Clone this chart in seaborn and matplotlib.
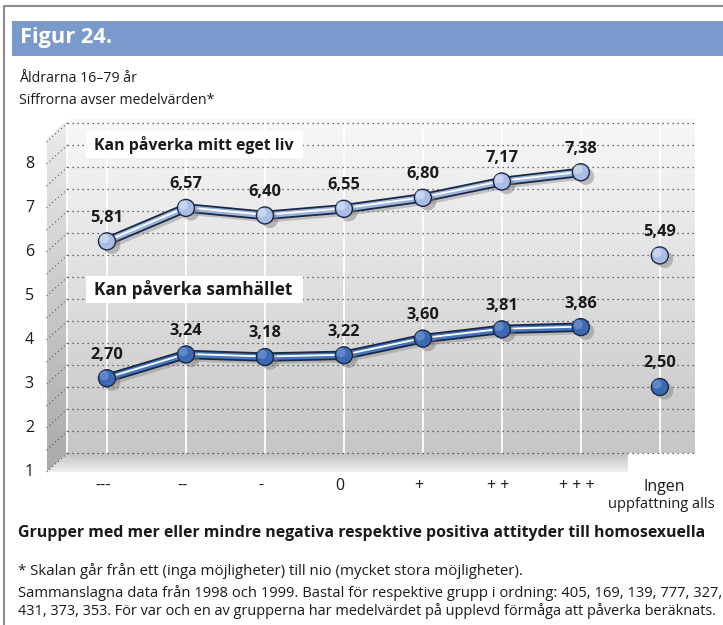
import numpy as np
import pandas as pd
import matplotlib
matplotlib.use("Agg")
import matplotlib.pyplot as plt
import matplotlib.transforms as mtransforms
import seaborn as sns
from matplotlib import patheffects as pe
from matplotlib.patches import Polygon, Rectangle
from matplotlib.lines import Line2D

# ---------------- data ----------------
categories = ["---", "--", "-", "0", "+", "+ +", "+ + +", "Ingen"]
eget_liv = [5.81, 6.57, 6.40, 6.55, 6.80, 7.17, 7.38, 5.49]
samhallet = [2.70, 3.24, 3.18, 3.22, 3.60, 3.81, 3.86, 2.50]
y_tick_values = [1, 2, 3, 4, 5, 6, 7, 8]
series_names = ["Kan påverka mitt eget liv", "Kan påverka samhället"]
title = "Figur 24."
subtitle1 = "Åldrarna 16–79 år"
subtitle2 = "Siffrorna avser medelvärden*"
last_label_line2 = "uppfattning alls"
x_title = "Grupper med mer eller mindre negativa respektive positiva attityder till homosexuella"
note1 = "* Skalan går från ett (inga möjligheter) till nio (mycket stora möjligheter)."
note2 = "Sammanslagna data från 1998 och 1999. Bastal för respektive grupp i ordning: 405, 169, 139, 777, 327,"
note3 = "431, 373, 353. För var och en av grupperna har medelvärdet på upplevd förmåga att påverka beräknats."

sns.set_theme(style="white")
FAM = ["Open Sans", "DejaVu Sans"]
plt.rcParams["font.family"] = FAM

W, H = 723, 625
fig = plt.figure(figsize=(W / 100, H / 100), dpi=100)
fig.patch.set_facecolor("white")
renderer = fig.canvas.get_renderer()


def fx(px):
    return px / W


def fy(py):
    return 1 - py / H


def fit(t, width_px, size):
    w = t.get_window_extent(renderer).width
    t.set_fontsize(size * width_px / w)
    return t


def place(txt, x_px, y_px, width_px=None, size=10, ha="left", stretch="semi-condensed", **kw):
    t = fig.text(fx(x_px), fy(y_px), txt, fontsize=size, ha=ha, va="center",
                 family=FAM, stretch=stretch, **kw)
    if width_px:
        fit(t, width_px, size)
    return t


# outer frame
fig.add_artist(Line2D([fx(4), fx(723)], [fy(6), fy(6)], color="#8c8c8c", lw=1.5))
fig.add_artist(Line2D([fx(4), fx(4)], [fy(6), fy(625)], color="#8c8c8c", lw=1.5))

# title bar
fig.add_artist(Rectangle((fx(12), fy(56)), fx(723) - fx(12), fy(21) - fy(56),
                         facecolor="#7a9acb", edgecolor="none", transform=fig.transFigure))
place(title, 20, 38, width_px=92, size=16, color="white", weight="bold", stretch="condensed")

# bottom texts
place(x_title, 18, 533, width_px=687, size=12.5, weight="bold", color="#1a1a1a")
n1 = place(note1, 18, 571, width_px=503, size=11, color="#1a1a1a")
place(note2, 18, 593, width_px=702, size=11, color="#1a1a1a")
place(note3, 18, 611, width_px=700, size=11, color="#1a1a1a")
note_size = n1.get_fontsize()
place(subtitle1, 19, 79, size=note_size * 0.94, color="#1a1a1a")
place(subtitle2, 19, 100, size=note_size * 0.94, color="#1a1a1a")

# ---------------- main axes ----------------
ax = fig.add_axes([fx(28), fy(475), fx(723) - fx(28), fy(101) - fy(475)])
ax.axis("off")

DX, DY = -0.265, -0.432   # depth offset (front plane)
X0, X1 = -0.5, 7.45
YB, YT = 1.0, 8.57

grad = np.linspace(0, 1, 256).reshape(-1, 1)
cm = matplotlib.colors.LinearSegmentedColormap.from_list
# back wall gradient
ax.imshow(grad, extent=[X0, X1, YB, YT], origin="lower", aspect="auto",
          cmap=cm("w", ["#c6c6c6", "#f8f8f8"]), zorder=0)
# side wall
side = Polygon([(X0, YB), (X0, YT), (X0 + DX, YT + DY), (X0 + DX, YB + DY)],
               closed=True, facecolor="none", edgecolor="none")
ax.add_patch(side)
im = ax.imshow(grad, extent=[X0 + DX, X0, YB + DY, YT], origin="lower", aspect="auto",
               cmap=cm("s", ["#a9a9a9", "#ececec"]), zorder=0)
im.set_clip_path(side)
# floor
FX1 = 6.595
floor = Polygon([(X0 + DX, YB + DY), (X0, YB), (FX1, YB), (FX1, YB + DY)],
                closed=True, facecolor="none", edgecolor="none")
ax.add_patch(floor)
im2 = ax.imshow(grad, extent=[X0 + DX, FX1, YB + DY, YB], origin="lower", aspect="auto",
                cmap=cm("f", ["#f0f0f0", "#bdbdbd"]), zorder=0)
im2.set_clip_path(floor)

# white vertical lines on back wall
ax.vlines([X0] + list(range(len(categories))), YB, YT, color="white", lw=1.3, zorder=1)
# dotted gridlines (back wall + side wall diagonals)
grid_vals = np.arange(1.0, 8.51, 0.5)
ax.hlines(grid_vals, X0, X1, color="#3c3c3c", lw=0.9, linestyles=(0, (1, 3)), zorder=1)
for v in grid_vals:
    ax.plot([X0 + DX, X0], [v + DY, v], color="#5a5a5a", lw=0.8, ls=(0, (1, 2.5)), zorder=1)
for v in y_tick_values:
    ax.text(-0.925, v + DY, str(v), ha="right", va="center", fontsize=11.5,
            color="#1a1a1a", family=FAM)

ax.set_xlim(-1, 7.8)
ax.set_ylim(0.5, 9)

# x labels
for i, c in enumerate(categories[:-1]):
    ax.text(i - 0.05, 0.26, c, ha="center", va="center", fontsize=11.5, color="#1a1a1a", family=FAM)
ax.text(7.06, 0.23, categories[-1], ha="center", va="center", fontsize=11.5,
        color="#1a1a1a", family=FAM)
tu = ax.text(7.7, -0.18, last_label_line2, ha="right", va="center", fontsize=11.5,
             color="#1a1a1a", family=FAM, clip_on=False)
fit(tu, 106, 11.5)


def px2data(xp, yp):
    return ((xp - 28) / 79.0 - 1.0, 1 + (453 - yp) / 44.0)


# series labels in white boxes
box_specs = [(series_names[0], 131, 158), (series_names[1], 276, 303)]
for name, yt, yb in box_specs:
    x0, y0 = px2data(86, yb)
    x1, y1 = px2data(303, yt)
    ax.add_patch(Rectangle((x0, y0), x1 - x0, y1 - y0, facecolor="white", edgecolor="none", zorder=2))
    tx, ty = px2data(94, (yt + yb) / 2)
    t = ax.text(tx, ty, name, ha="left", va="center", fontsize=12.5, weight="bold",
                color="#1a1a1a", family=FAM, zorder=3)
    fit(t, 199, 12.5)

# ---------------- data drawing ----------------
df = pd.DataFrame({
    "x": list(range(len(categories))) * 2,
    "value": eget_liv + samhallet,
    "series": [series_names[0]] * len(categories) + [series_names[1]] * len(categories),
})
styles = {
    series_names[0]: dict(line="#9db3df", face="#a9bde5", hi="#dfe7f6"),
    series_names[1]: dict(line="#4676c0", face="#3b69b3", hi="#7fa2dc"),
}
OUTLINE = "#1b2945"
highlights = []
for name in series_names:
    sub = df[(df.series == name) & (df.x < len(categories) - 1)]
    st = styles[name]
    sns.lineplot(data=sub, x="x", y="value", ax=ax, color=st["line"], lw=4.2,
                 zorder=4, legend=False,
                 path_effects=[pe.SimpleLineShadow(offset=(2.5, -3), shadow_color="#808080", alpha=0.4),
                               pe.Stroke(linewidth=6.8, foreground=OUTLINE),
                               pe.Stroke(linewidth=4.2, foreground=st["line"]),
                               pe.Stroke(linewidth=1.3, foreground="white", offset=(0, 0.4))])
    subp = df[df.series == name]
    sns.scatterplot(data=subp, x="x", y="value", ax=ax, s=150, color=st["face"],
                    edgecolor=OUTLINE, linewidth=1.0, zorder=5, legend=False,
                    path_effects=[pe.SimplePatchShadow(offset=(3.5, -3), shadow_rgbFace="#7a7a7a", alpha=0.45),
                                  pe.Normal()])
    n_before = len(ax.collections)
    sns.scatterplot(data=subp, x="x", y="value", ax=ax, s=45, color=st["hi"], alpha=0.55,
                    edgecolor="none", linewidth=0, zorder=5.5, legend=False)
    highlights.extend(ax.collections[n_before:])
    for xi, v in zip(subp.x, subp.value):
        ax.annotate(f"{v:.2f}".replace(".", ","), (xi, v), xytext=(0, 17), textcoords="offset points",
                    ha="center", va="center", fontsize=11.8, weight="bold", color="#1a1a1a",
                    family=FAM, zorder=6)

for coll in highlights:
    coll.set_offset_transform(ax.transData + mtransforms.ScaledTranslation(-2 / 72, 2 / 72, fig.dpi_scale_trans))

ax.set_xlim(-1, 7.8)
ax.set_ylim(0.5, 9)
ax.set_xlabel("")
ax.set_ylabel("")
ax.axis("off")

fig.savefig("out.png", dpi=100)
